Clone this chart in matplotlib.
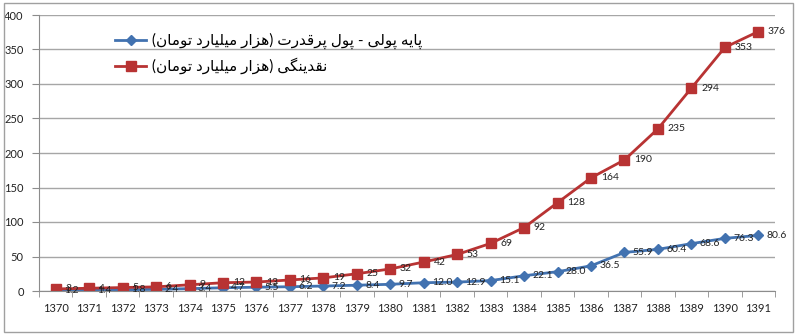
import matplotlib
matplotlib.use("Agg")
import matplotlib.pyplot as plt
from matplotlib.patches import Rectangle

years = [str(y) for y in range(1370, 1392)]
base_money = [1.2, 1.4, 1.8, 2.4, 3.4, 4.7, 5.5, 6.2, 7.2, 8.4, 9.7, 12.0,
              12.9, 15.1, 22.1, 28.0, 36.5, 55.9, 60.4, 68.6, 76.3, 80.6]
liquidity = [3, 4, 5, 6, 9, 12, 13, 16, 19, 25, 32, 42,
             53, 69, 92, 128, 164, 190, 235, 294, 353, 376]
label_base = "پایه پولی - پول پرقدرت (هزار میلیارد تومان)"
label_liq = "نقدینگی (هزار میلیارد تومان)"
y_ticks = list(range(0, 401, 50))

# matplotlib has no arabic shaping, so pick presentation forms by hand
FORMS = {
    "ا": ("\uFE8D", "\uFE8E", None, None), "د": ("\uFEA9", "\uFEAA", None, None),
    "ر": ("\uFEAD", "\uFEAE", None, None), "ز": ("\uFEAF", "\uFEB0", None, None),
    "و": ("\uFEED", "\uFEEE", None, None),
    "ت": ("\uFE95", "\uFE96", "\uFE97", "\uFE98"), "ق": ("\uFED5", "\uFED6", "\uFED7", "\uFED8"),
    "ل": ("\uFEDD", "\uFEDE", "\uFEDF", "\uFEE0"), "م": ("\uFEE1", "\uFEE2", "\uFEE3", "\uFEE4"),
    "ن": ("\uFEE5", "\uFEE6", "\uFEE7", "\uFEE8"), "ه": ("\uFEE9", "\uFEEA", "\uFEEB", "\uFEEC"),
    "پ": ("\uFB56", "\uFB57", "\uFB58", "\uFB59"), "گ": ("\uFB92", "\uFB93", "\uFB94", "\uFB95"),
    "ی": ("\uFBFC", "\uFBFD", "\uFBFE", "\uFBFF"),
}


def shape(s):
    out = []
    for i, c in enumerate(s):
        if c not in FORMS:
            out.append({"(": ")", ")": "("}.get(c, c))
            continue
        prev = s[i - 1] if i > 0 else ""
        nxt = s[i + 1] if i + 1 < len(s) else ""
        dual = FORMS[c][2] is not None
        jp = prev in FORMS and FORMS[prev][2] is not None
        jn = dual and nxt in FORMS
        idx = 3 if (jp and jn) else 1 if jp else 2 if jn else 0
        out.append(FORMS[c][idx])
    return "".join(reversed(out))


plt.rcParams["font.family"] = ["Lato", "DejaVu Sans"]
grey = "#8c8c8c"
red = "#b83333"
blue = "#4272b0"

fig = plt.figure(figsize=(8, 3.35), dpi=100)
ax = fig.add_axes([39 / 800, 1 - 291 / 335, 736 / 800, 276 / 335])
x = list(range(len(years)))

ax.plot(x, base_money, color=blue, lw=2, marker="D", ms=5, label=shape(label_base))
ax.plot(x, liquidity, color=red, lw=2, marker="s", ms=7, label=shape(label_liq))

for xi, v in zip(x, base_money):
    ax.annotate(f"{v:.1f}", (xi, v), xytext=(6, 0), textcoords="offset points",
                ha="left", va="center", fontsize=7.5, color="#222222")
for xi, v in zip(x, liquidity):
    ax.annotate(f"{v}", (xi, v), xytext=(7, 0), textcoords="offset points",
                ha="left", va="center", fontsize=7.5, color="#222222")

ax.set_xlim(-0.5, len(years) - 0.5)
ax.set_ylim(0, 400)
ax.set_yticks(y_ticks)
ax.set_xticks(x)
ax.set_xticklabels(years)
ax.set_xticks([i - 0.5 for i in range(len(years) + 1)], minor=True)
ax.tick_params(axis="x", which="major", length=0, pad=9, labelsize=8, labelcolor="#222222")
ax.tick_params(axis="x", which="minor", length=4, color=grey, direction="out")
ax.tick_params(axis="y", length=5, color=grey, pad=6, labelsize=8, labelcolor="#222222")
ax.yaxis.grid(True, color="#a6a6a6", lw=1)
ax.set_axisbelow(True)
for side in ["top", "right"]:
    ax.spines[side].set_visible(False)
for side in ["left", "bottom"]:
    ax.spines[side].set_color(grey)

ax.legend(loc="upper left", bbox_to_anchor=(0.085, 0.985), frameon=False,
          fontsize=11, handlelength=2.0, handletextpad=0.4, labelspacing=0.55)

fig.patches.append(Rectangle((4 / 800, 3 / 335), 789 / 800, 329 / 335, transform=fig.transFigure,
                             fill=False, edgecolor="#a0a0a0", lw=1))

fig.savefig("out.png", dpi=100)
